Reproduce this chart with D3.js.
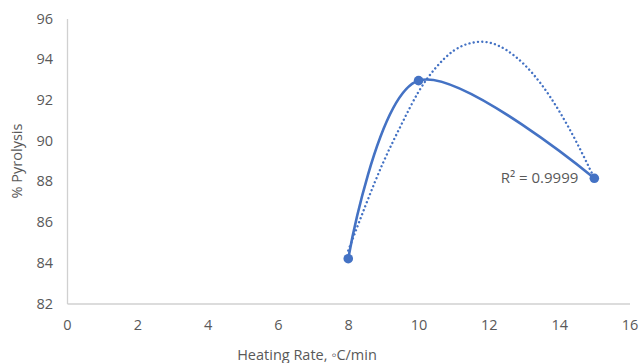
<!DOCTYPE html>
<html>
<head>
<meta charset="utf-8">
<script src="https://cdn.jsdelivr.net/npm/d3@7"></script>
<style>
  html, body { margin: 0; padding: 0; background: #fff; }
  svg { display: block; }
  text { font-family: "Open Sans", "Liberation Sans", sans-serif; fill: #595959; }
</style>
</head>
<body>
<svg id="chart" width="639" height="363"></svg>
<script>
// Measured pyrolysis yield at each heating rate
const heatingRates = [8, 10, 15];
const pyrolysisPct = [84.2, 92.95, 88.15];

// Polynomial trendline, sampled along the heating-rate range
const trendX = [8, 8.5, 9, 9.5, 10, 10.5, 11, 11.5, 12, 12.5, 13, 13.5, 14, 14.5, 15];
const trendY = [84.6, 86.85, 88.95, 90.75, 92.4, 93.6, 94.42, 94.8, 94.82, 94.45, 93.75, 92.75, 91.45, 89.9, 88.15];
const trendLabel = "R² = 0.9999";

const xTicks = [0, 2, 4, 6, 8, 10, 12, 14, 16];
const yTicks = [82, 84, 86, 88, 90, 92, 94, 96];

const svg = d3.select("#chart");
const blue = "#4472C4";
const axisGray = "#D0D0D0";

const x = d3.scaleLinear().domain([0, 16]).range([67, 629.5]);
const y = d3.scaleLinear().domain([82, 96]).range([303.5, 18.5]);

// Axes: plain lines with labels, no tick marks
const xAxis = svg.append("g")
  .attr("transform", `translate(0,${y(82)})`)
  .call(d3.axisBottom(x).tickValues(xTicks).tickSize(0).tickPadding(16).tickFormat(d3.format("d")));
xAxis.select(".domain").attr("stroke", axisGray).attr("stroke-width", 1.3);
xAxis.selectAll("text").style("font-size", "14.5px").attr("fill", "#595959");

const yAxis = svg.append("g")
  .attr("transform", `translate(${x(0)},0)`)
  .call(d3.axisLeft(y).tickValues(yTicks).tickSize(0).tickPadding(14).tickFormat(d3.format("d")));
yAxis.select(".domain").attr("stroke", axisGray).attr("stroke-width", 1.3);
yAxis.selectAll("text").style("font-size", "14.5px").attr("fill", "#595959");

// Axis titles
svg.append("text")
  .attr("x", 307).attr("y", 360)
  .attr("text-anchor", "middle")
  .style("font-size", "14.5px")
  .text("Heating Rate, ◦C/min");

svg.append("text")
  .attr("transform", "translate(22,161) rotate(-90)")
  .attr("text-anchor", "middle")
  .style("font-size", "14.5px")
  .text("% Pyrolysis");

// Dotted trendline
const trendPts = trendX.map((v, i) => [v, trendY[i]]);
svg.append("path")
  .datum(trendPts)
  .attr("fill", "none")
  .attr("stroke", blue)
  .attr("stroke-width", 2.4)
  .attr("stroke-linecap", "round")
  .attr("stroke-dasharray", "0.01 4.3")
  .attr("d", d3.line().x(d => x(d[0])).y(d => y(d[1])).curve(d3.curveNatural));

// Smoothed data line
const dataPts = heatingRates.map((v, i) => [v, pyrolysisPct[i]]);
svg.append("path")
  .datum(dataPts)
  .attr("fill", "none")
  .attr("stroke", blue)
  .attr("stroke-width", 2.6)
  .attr("stroke-linejoin", "round")
  .attr("d", d3.line().x(d => x(d[0])).y(d => y(d[1])).curve(d3.curveCardinal.tension(0)));

// Markers
svg.append("g").selectAll("circle")
  .data(dataPts)
  .join("circle")
  .attr("cx", d => x(d[0]))
  .attr("cy", d => y(d[1]))
  .attr("r", 4.8)
  .attr("fill", blue);

// Trendline R² label
svg.append("text")
  .attr("x", x(15) - 16).attr("y", y(pyrolysisPct[2]) + 5)
  .attr("text-anchor", "end")
  .style("font-size", "15px")
  .text(trendLabel);
</script>
</body>
</html>
